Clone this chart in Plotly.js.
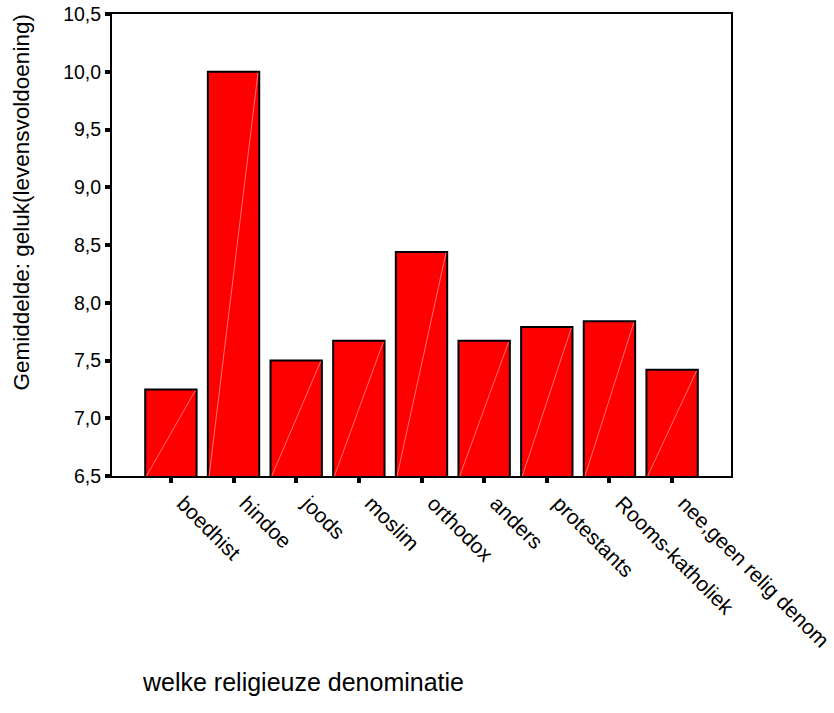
<!DOCTYPE html>
<html>
<head>
<meta charset="utf-8">
<script src="https://cdn.plot.ly/plotly-3.0.1.min.js"></script>
<style>
html,body{margin:0;padding:0;background:#fff;}
#chart{width:834px;height:713px;}
</style>
</head>
<body>
<div id="chart"></div>
<script>
const categories = ["boedhist","hindoe","joods","moslim","orthodox","anders","protestants","Rooms-katholiek","nee,geen relig denom"];
const meanValues = [7.25, 10.0, 7.50, 7.67, 8.44, 7.67, 7.79, 7.84, 7.42];
const yTickValues = [6.5, 7.0, 7.5, 8.0, 8.5, 9.0, 9.5, 10.0, 10.5];
const yTitle = "Gemiddelde: geluk(levensvoldoening)";
const xTitle = "welke religieuze denominatie";

const yMin = 6.5, yMax = 10.5;
const barWidth = 0.82;
const xIdx = categories.map((c, i) => i);

const traces = [{
  type: "bar",
  x: xIdx,
  y: meanValues,
  width: barWidth,
  marker: {color: "#ff0000", line: {color: "#000000", width: 2}},
  hoverinfo: "skip"
}];

// faint diagonal highlight inside each bar (bottom-left to top-right)
xIdx.forEach((xi, i) => {
  traces.push({
    type: "scatter", mode: "lines",
    x: [xi - barWidth / 2 + 0.02, xi + barWidth / 2 - 0.02],
    y: [yMin, meanValues[i] - 0.01],
    line: {color: "#ff7070", width: 1},
    hoverinfo: "skip", showlegend: false
  });
});

const layout = {
  width: 834, height: 713,
  margin: {l: 112, r: 103, t: 14, b: 237, autoexpand: false},
  paper_bgcolor: "#ffffff", plot_bgcolor: "#ffffff",
  showlegend: false,
  separators: ",.",
  font: {family: "Liberation Sans, Arial, sans-serif", color: "#000", size: 20},
  xaxis: {
    range: [-0.94, 8.94],
    tickmode: "array", tickvals: xIdx, ticktext: categories,
    tickangle: 45,
    ticklabelshift: 12,
    ticklabeloverflow: "allow",
    ticks: "outside", ticklen: 5, tickwidth: 4, tickcolor: "#000",
    showline: true, linecolor: "#000", linewidth: 2, mirror: true,
    showgrid: false, zeroline: false,
    tickfont: {size: 21}
  },
  yaxis: {
    range: [yMin, yMax],
    tickmode: "array", tickvals: yTickValues,
    tickformat: ".1f",
    ticks: "outside", ticklen: 5, tickwidth: 4, tickcolor: "#000",
    showline: true, linecolor: "#000", linewidth: 2, mirror: true,
    showgrid: false, zeroline: false,
    tickfont: {size: 19.5}
  },
  annotations: [
    {text: yTitle, xref: "paper", yref: "paper", x: -0.146, y: 0.591,
     xanchor: "center", yanchor: "middle", textangle: -90, showarrow: false,
     font: {size: 22.5}},
    {text: xTitle, xref: "paper", yref: "paper", x: 0.045, y: -0.446,
     xanchor: "left", yanchor: "middle", showarrow: false,
     font: {size: 25}}
  ]
};

Plotly.newPlot("chart", traces, layout, {staticPlot: true, displayModeBar: false});
</script>
</body>
</html>
